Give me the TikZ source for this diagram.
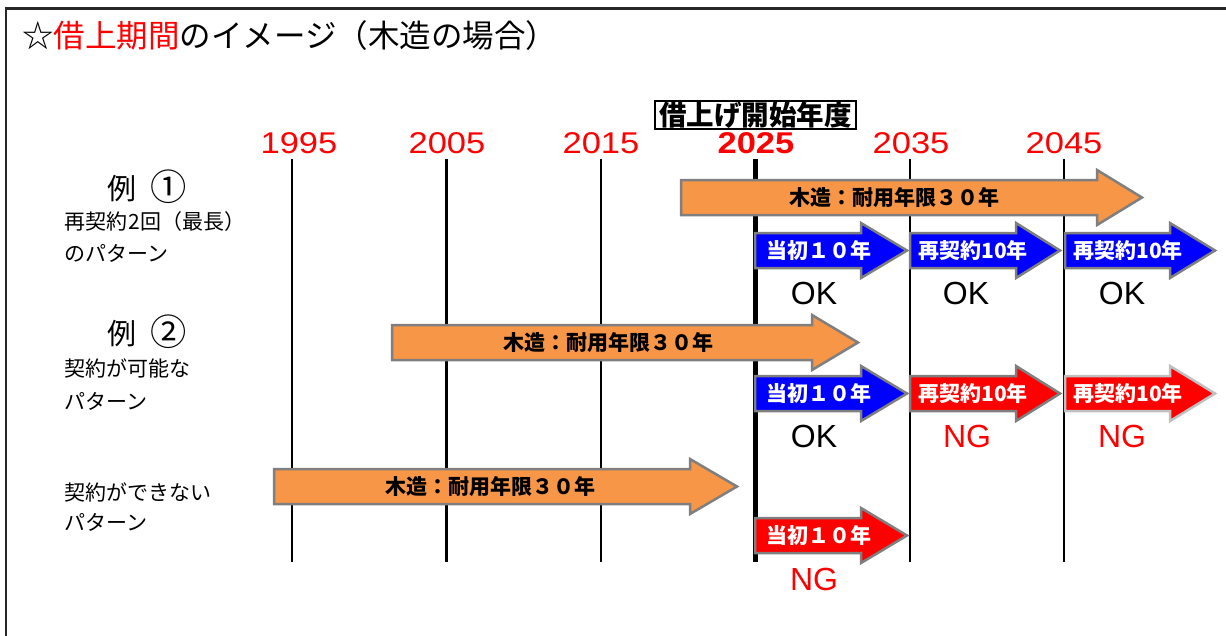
\documentclass[tikz,border=0pt]{standalone}
\usepackage{fontspec}
\setmainfont{Noto Sans CJK JP}
\newfontfamily\latinsans{Liberation Sans}
\definecolor{orangefill}{HTML}{F79646}
\definecolor{arrgray}{HTML}{7F7F7F}
\definecolor{arrlight}{HTML}{C0C0C0}
\definecolor{pureblue}{HTML}{0000FF}
\definecolor{purered}{HTML}{FF0000}
\newcommand{\fs}[1]{\fontsize{#1}{#1}\selectfont}
\newcommand{\wide}[1]{\scalebox{1.15}[1]{#1}}
\newcommand{\circnum}[1]{\raisebox{-1pt}{\scalebox{1.25}{#1}}}
% #1 style, #2 x left, #3 x head base, #4 x tip, #5 y top of body, #6 body height, #7 head extension
\newcommand{\flatarrow}[7]{%
  \draw[#1] (#2,#5) -- (#3,#5) -- (#3,#5-#7) -- (#4,#5+#6/2) -- (#3,#5+#6+#7) -- (#3,#5+#6) -- (#2,#5+#6) -- cycle;}
\tikzset{
  yearlabel/.style={text=purered, font=\latinsans\fs{30}, inner sep=0pt},
  vline/.style={line width=2.5pt, black},
  vthick/.style={line width=4.5pt, black},
  arrbase/.style={draw=arrgray, line width=2.5pt, line join=miter},
  orangearr/.style={arrbase, fill=orangefill},
  bluearr/.style={arrbase, fill=pureblue},
  redarr/.style={arrbase, fill=purered},
  redarrlight/.style={draw=arrlight, line width=2.5pt, line join=miter, fill=purered},
  orangetext/.style={font=\fs{21}\bfseries, text=black, inner sep=0pt},
  boxtext/.style={font=\fs{21}\bfseries, text=white, inner sep=0pt},
  oklabel/.style={font=\latinsans\fs{32}, text=black, inner sep=0pt},
  nglabel/.style={font=\latinsans\fs{32}, text=purered, inner sep=0pt},
  sidelabel/.style={font=\fs{21}, anchor=west, inner sep=0pt},
  examplelabel/.style={font=\fs{29}, anchor=west, inner sep=0pt},
}
\begin{document}
\begin{tikzpicture}[x=1pt,y=-1pt]
\useasboundingbox (0,0) rectangle (1226,635);
% frame
\draw[line width=2.5pt, black!85] (6,8.5) rectangle (1245,660);
% title
\node[anchor=west, inner sep=0pt, font=\fs{31.5}] (title) at (22,36) {☆\textcolor{purered}{借上期間}のイメージ（木造の場合）};
% header box
\node[draw=black, line width=2pt, fill=white, minimum width=201pt, minimum height=28pt, inner sep=0pt, font=\fs{27.5}\bfseries] (start) at (755.5,115) {借上げ開始年度};
% year labels
\node[yearlabel] (y1995) at (299,143) {\wide{1995}};
\node[yearlabel] (y2005) at (447,143) {\wide{2005}};
\node[yearlabel] (y2015) at (601,143) {\wide{2015}};
\node[yearlabel, font=\latinsans\fs{30}\bfseries] (y2025) at (756,143) {\wide{2025}};
\node[yearlabel] (y2035) at (911,143) {\wide{2035}};
\node[yearlabel] (y2045) at (1064,143) {\wide{2045}};
% vertical lines
\coordinate (t1995) at (292,159); \coordinate (b1995) at (292,562);
\coordinate (t2005) at (446.5,159); \coordinate (b2005) at (446.5,562);
\coordinate (t2015) at (601,159); \coordinate (b2015) at (601,562);
\coordinate (t2025) at (755.5,159); \coordinate (b2025) at (755.5,562);
\coordinate (t2035) at (910,159); \coordinate (b2035) at (910,562);
\coordinate (t2045) at (1064,159); \coordinate (b2045) at (1064,562);
\draw[vline] (t1995) -- (b1995);
\draw[vline] (t2005) -- (b2005);
\draw[vline] (t2015) -- (b2015);
\draw[vthick] (t2025) -- (b2025);
\draw[vline] (t2035) -- (b2035);
\draw[vline] (t2045) -- (b2045);
% left labels
\node[examplelabel] (ex1) at (107,187) {例\hspace{14pt}\circnum{①}};
\node[sidelabel] (ex1a) at (64,222) {再契約\hspace{1pt}2\hspace{1pt}回（最長）};
\node[sidelabel] (ex1b) at (64,253) {のパターン};
\node[examplelabel] (ex2) at (107,332) {例\hspace{14pt}\circnum{②}};
\node[sidelabel] (ex2a) at (64,368) {契約が可能な};
\node[sidelabel] (ex2b) at (64,401) {パターン};
\node[sidelabel] (ex3a) at (64,492) {契約ができない};
\node[sidelabel] (ex3b) at (64,522) {パターン};
% row 1
\flatarrow{orangearr}{681}{1097}{1142}{180}{35}{10}
\node[orangetext] (r1o) at (894,197.5) {木造：耐用年限３０年};
\flatarrow{bluearr}{755}{861}{907}{233}{35}{10}
\node[boxtext] (r1a) at (819,250.5) {当初１０年};
\flatarrow{bluearr}{910}{1016}{1060}{233}{35}{10}
\node[boxtext] (r1b) at (973,250.5) {再契約10年};
\flatarrow{bluearr}{1065}{1170}{1215}{233}{35}{10}
\node[boxtext] (r1c) at (1128,250.5) {再契約10年};
\node[oklabel] (ok1a) at (814,293) {OK};
\node[oklabel] (ok1b) at (966,293) {OK};
\node[oklabel] (ok1c) at (1122,293) {OK};
% row 2
\flatarrow{orangearr}{392}{812}{858}{325}{35}{10}
\node[orangetext] (r2o) at (608,342.5) {木造：耐用年限３０年};
\flatarrow{bluearr}{755}{861}{907}{376}{35}{10}
\node[boxtext] (r2a) at (819,393.5) {当初１０年};
\flatarrow{redarr}{910}{1016}{1060}{376}{35}{10}
\node[boxtext] (r2b) at (973,393.5) {再契約10年};
\flatarrow{redarrlight}{1065}{1170}{1215}{376}{35}{10}
\node[boxtext] (r2c) at (1128,393.5) {再契約10年};
\node[oklabel] (ok2a) at (814,436) {OK};
\node[nglabel] (ng2b) at (967,436) {NG};
\node[nglabel] (ng2c) at (1122,436) {NG};
% row 3
\flatarrow{orangearr}{274}{690}{737}{469}{35}{10}
\node[orangetext] (r3o) at (490,486.5) {木造：耐用年限３０年};
\flatarrow{redarr}{755}{861}{907}{518}{35}{10}
\node[boxtext] (r3a) at (819,535.5) {当初１０年};
\node[nglabel] (ng3a) at (814,579) {NG};
\end{tikzpicture}
\end{document}
